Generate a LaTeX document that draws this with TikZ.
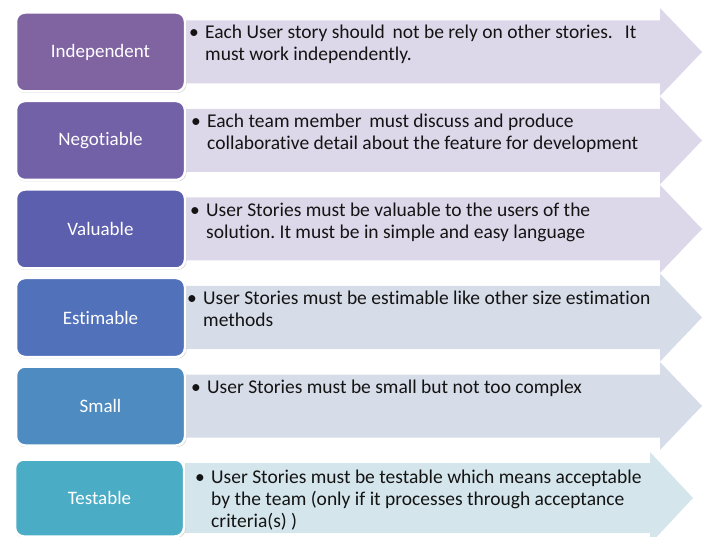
\documentclass[tikz,border=0pt]{standalone}
\usepackage{fontspec}
\setmainfont{Carlito}[Ligatures=NoCommon]
\usepackage{xcolor}
\usepackage{tikz}
\usetikzlibrary{shadows}
\definecolor{indepcol}{RGB}{128, 100, 162}
\definecolor{negotcol}{RGB}{115, 97, 168}
\definecolor{valucol}{RGB}{92, 94, 174}
\definecolor{estimcol}{RGB}{81, 113, 186}
\definecolor{smallcol}{RGB}{77, 139, 192}
\definecolor{testacol}{RGB}{75, 172, 198}
\definecolor{arrowlav}{RGB}{220, 216, 233}
\definecolor{arrowgray}{RGB}{214, 220, 232}
\definecolor{arrowblue}{RGB}{212, 229, 236}
\definecolor{notetextcol}{RGB}{20, 20, 20}

\tikzset{
    storybox/.style={rounded corners=9pt, draw=white, line width=2.5pt,
        minimum width=169pt, minimum height=79pt, text=white,
        font=\fontsize{19}{22}\selectfont,
        drop shadow={shadow xshift=0.6pt, shadow yshift=-1pt, shadow scale=1.012, opacity=0.3}},
    notetext/.style={anchor=base west, inner sep=0pt, text=notetextcol,
        font=\fontsize{19.5}{22}\selectfont}
}
\newcommand{\notebody}[1]{\makebox[16pt][l]{\textbullet}\parbox[t]{480pt}{\frenchspacing #1}}

\begin{document}
\begin{tikzpicture}[x=1pt, y=-1pt]
    \useasboundingbox (0,0) rectangle (704,537);

    % Arrows
    \fill[arrowlav] (185,20.5) -- (660,20.5) -- (660,8) -- (702,52) -- (660,96) -- (660,83.5) -- (185,83.5) -- cycle;
    \fill[arrowlav] (185,109) -- (660,109) -- (660,96.5) -- (702,140.5) -- (660,184.5) -- (660,172) -- (185,172) -- cycle;
    \fill[arrowlav] (185,197.5) -- (660,197.5) -- (660,185) -- (702,229) -- (660,273) -- (660,260.5) -- (185,260.5) -- cycle;
    \fill[arrowgray] (185,286) -- (660,286) -- (660,273.5) -- (702,317.5) -- (660,361.5) -- (660,349) -- (185,349) -- cycle;
    \fill[arrowgray] (185,374.5) -- (660,374.5) -- (660,362) -- (702,406) -- (660,450) -- (660,437.5) -- (185,437.5) -- cycle;
    \fill[arrowblue] (185,463) -- (650,463) -- (650,452) -- (693,498) -- (650,544) -- (650,533) -- (185,533) -- cycle;

    % Boxes
    \node[storybox, fill=indepcol] (indep) at (100.5,52) {Independent};
    \node[storybox, fill=negotcol] (negot) at (100.5,140.5) {Negotiable};
    \node[storybox, fill=valucol] (valu) at (100.5,229) {Valuable};
    \node[storybox, fill=estimcol] (estim) at (100.5,317.5) {Estimable};
    \node[storybox, fill=smallcol] (small) at (100.5,406) {Small};
    \node[storybox, fill=testacol, minimum height=77pt] (testa) at (99.5,498) {Testable};

    % Notes
    \node[notetext] (indep-note) at (189,39) {\notebody{Each User story should\, not be rely on other stories.\ \, It\\must work independently.}};
    \node[notetext] (negot-note) at (191,128) {\notebody{Each team member\, must discuss and produce\\collaborative detail about the feature for development}};
    \node[notetext] (valu-note) at (190,216.5) {\notebody{User Stories must be valuable to the users of the\\solution. It must be in simple and easy language}};
    \node[notetext] (estim-note) at (187,305) {\notebody{User Stories must be estimable like other size estimation\\methods}};
    \node[notetext] (small-note) at (191,393.5) {\notebody{User Stories must be small but not too complex}};
    \node[notetext] (testa-note) at (195,483) {\notebody{User Stories must be testable which means acceptable\\by the team (only if it processes through acceptance\\criteria(s) )}};
\end{tikzpicture}
\end{document}
